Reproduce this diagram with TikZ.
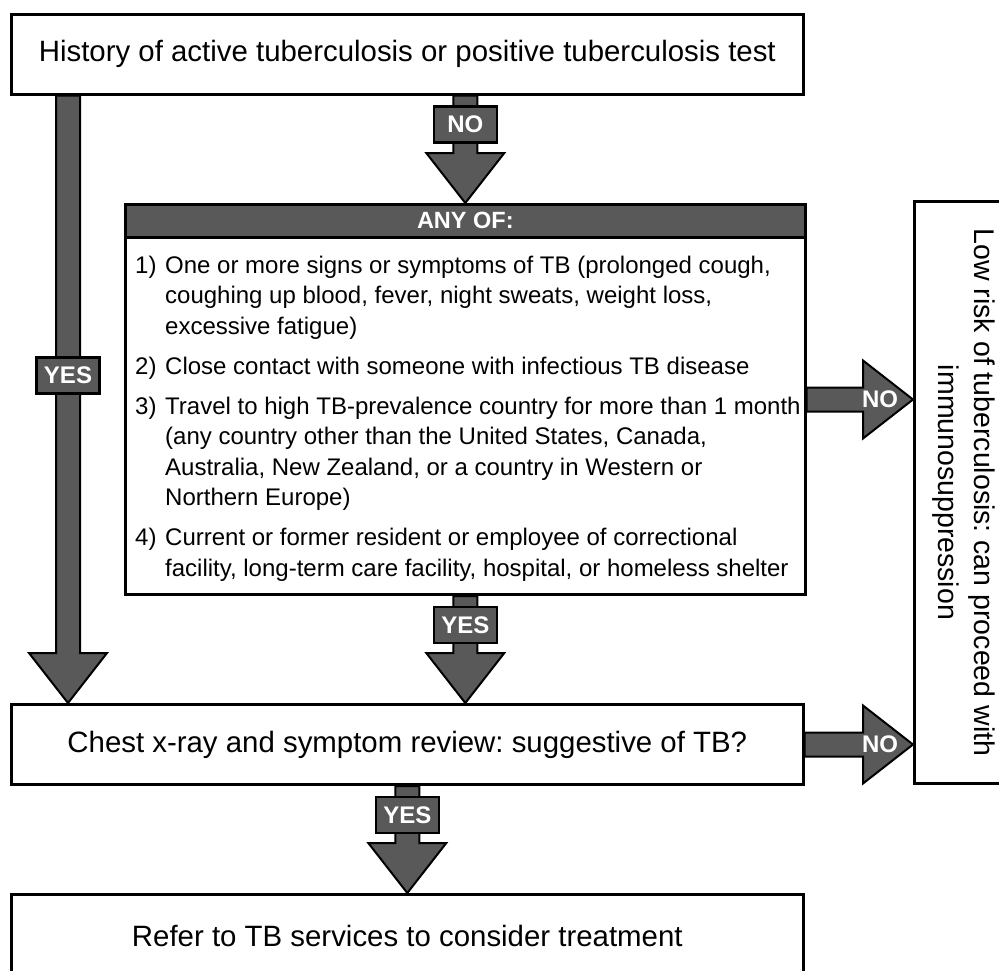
\documentclass[tikz,border=0pt]{standalone}
\usepackage{fontspec}
\setmainfont{Liberation Sans}
\usepackage{graphicx}
\usetikzlibrary{positioning, calc}
\definecolor{arrowGray}{RGB}{89,89,89}
\frenchspacing

\begin{document}
\begin{tikzpicture}[
    x=1pt, y=-1pt,
    box/.style = {
        draw,
        rectangle,
        fill=white,
        line width=2.6pt,
        inner sep=0pt,
        anchor=north west,
        font=\fontsize{29.4}{36}\selectfont,
    },
    header/.style = {
        box,
        fill=arrowGray,
        text=white,
        font=\bfseries\fontsize{23.5}{23.5}\selectfont,
    },
    list/.style = {
        inner sep=0pt,
        anchor=north west,
        font=\fontsize{24}{30.5}\selectfont,
    },
    blockArrow/.style = {
        draw,
        fill=arrowGray,
        line width=2pt,
        line join=miter,
    },
    onArrow/.style = {
        draw,
        fill=arrowGray,
        text=white,
        line width=2.4pt,
        minimum width=63pt,
        minimum height=36pt,
        inner sep=0pt,
        font=\bfseries\fontsize{24}{24}\selectfont,
    },
    onHead/.style = {
        text=white,
        inner sep=0pt,
        font=\bfseries\fontsize{24}{24}\selectfont,
    },
]

\newcommand{\blockDown}[2]{
    \draw[blockArrow]
        ($(#1)+(-12,0)$) -- ($(#2)+(-12,-50)$) -- ($(#2)+(-39,-50)$)
        -- (#2) -- ($(#2)+(39,-50)$) -- ($(#2)+(12,-50)$)
        -- ($(#1)+(12,0)$) -- cycle;
}
\newcommand{\blockRight}[2]{
    \draw[blockArrow]
        ($(#1)+(0,-12)$) -- ($(#2)+(-50,-12)$) -- ($(#2)+(-50,-39)$)
        -- (#2) -- ($(#2)+(-50,39)$) -- ($(#2)+(-50,12)$)
        -- ($(#1)+(0,12)$) -- cycle;
}

\useasboundingbox (0,0) rectangle (999,970);
\clip (0,0) rectangle (999,970);

\node[box, minimum width=792pt, minimum height=80pt] (hist) at (10,13)
    {History of active tuberculosis or positive tuberculosis test};

\node[box, minimum width=680pt, minimum height=390.4pt] (anyof) at (124,203) {};
\node[header, anchor=north, minimum width=680pt, minimum height=33pt] (anyofHead)
    at (anyof.north) {ANY OF:};
\node[list] (anyofList) at ($(anyofHead.south west)+(11,13)$) {
    \begin{tabular}{@{}p{30pt}@{}l@{}}
    1) & One or more signs or symptoms of TB (prolonged cough,\\
       & coughing up blood, fever, night sweats, weight loss,\\
       & excessive fatigue)\\[9.5pt]
    2) & Close contact with someone with infectious TB disease\\[9.5pt]
    3) & Travel to high TB-prevalence country for more than 1 month\\
       & (any country other than the United States, Canada,\\
       & Australia, New Zealand, or a country in Western or\\
       & Northern Europe)\\[9.5pt]
    4) & Current or former resident or employee of correctional\\
       & facility, long-term care facility, hospital, or homeless shelter
    \end{tabular}
};

\node[box, minimum width=99pt, minimum height=582.4pt,
    font=\fontsize{28.5}{36}\selectfont] (lowrisk) at (913,200)
    {\rotatebox{-90}{\begin{tabular}{@{}c@{}}
        Low risk of tuberculosis: can proceed with\\
        immunosuppression
    \end{tabular}}};

\node[box, minimum width=792pt, minimum height=80.4pt] (chest) at (10,703)
    {Chest x-ray and symptom review: suggestive of TB?};

\node[box, below=107pt of chest, minimum width=792pt, minimum height=84pt] (refer)
    {Refer to TB services to consider treatment};

\coordinate (yesLeftStart) at ($(hist.south west)+(58,0)$);
\coordinate (yesLeftEnd) at (yesLeftStart |- chest.north);
\coordinate (noTopStart) at (hist.south -| anyof.north);
\coordinate (noRightEnd) at (anyof.east -| lowrisk.west);
\coordinate (yesMidEnd) at (anyof.south |- chest.north);
\coordinate (noChestEnd) at (chest.east -| lowrisk.west);

\blockDown{yesLeftStart}{yesLeftEnd}
\blockDown{noTopStart}{anyof.north}
\blockRight{anyof.east}{noRightEnd}
\blockDown{anyof.south}{yesMidEnd}
\blockRight{chest.east}{noChestEnd}
\blockDown{chest.south}{refer.north}

\node[onArrow] (yesLeft) at ($(yesLeftStart)!0.461!(yesLeftEnd)$) {YES};
\node[onArrow] (noTop) at ($(noTopStart)!0.27!(anyof.north)$) {NO};
\node[onArrow] (yesMid) at ($(anyof.south)!0.27!(yesMidEnd)$) {YES};
\node[onArrow] (yesLow) at ($(chest.south)!0.27!(refer.north)$) {YES};
\node[onHead] (noRight) at ($(noRightEnd)+(-33,0)$) {NO};
\node[onHead] (noChest) at ($(noChestEnd)+(-33,0)$) {NO};

\end{tikzpicture}
\end{document}
